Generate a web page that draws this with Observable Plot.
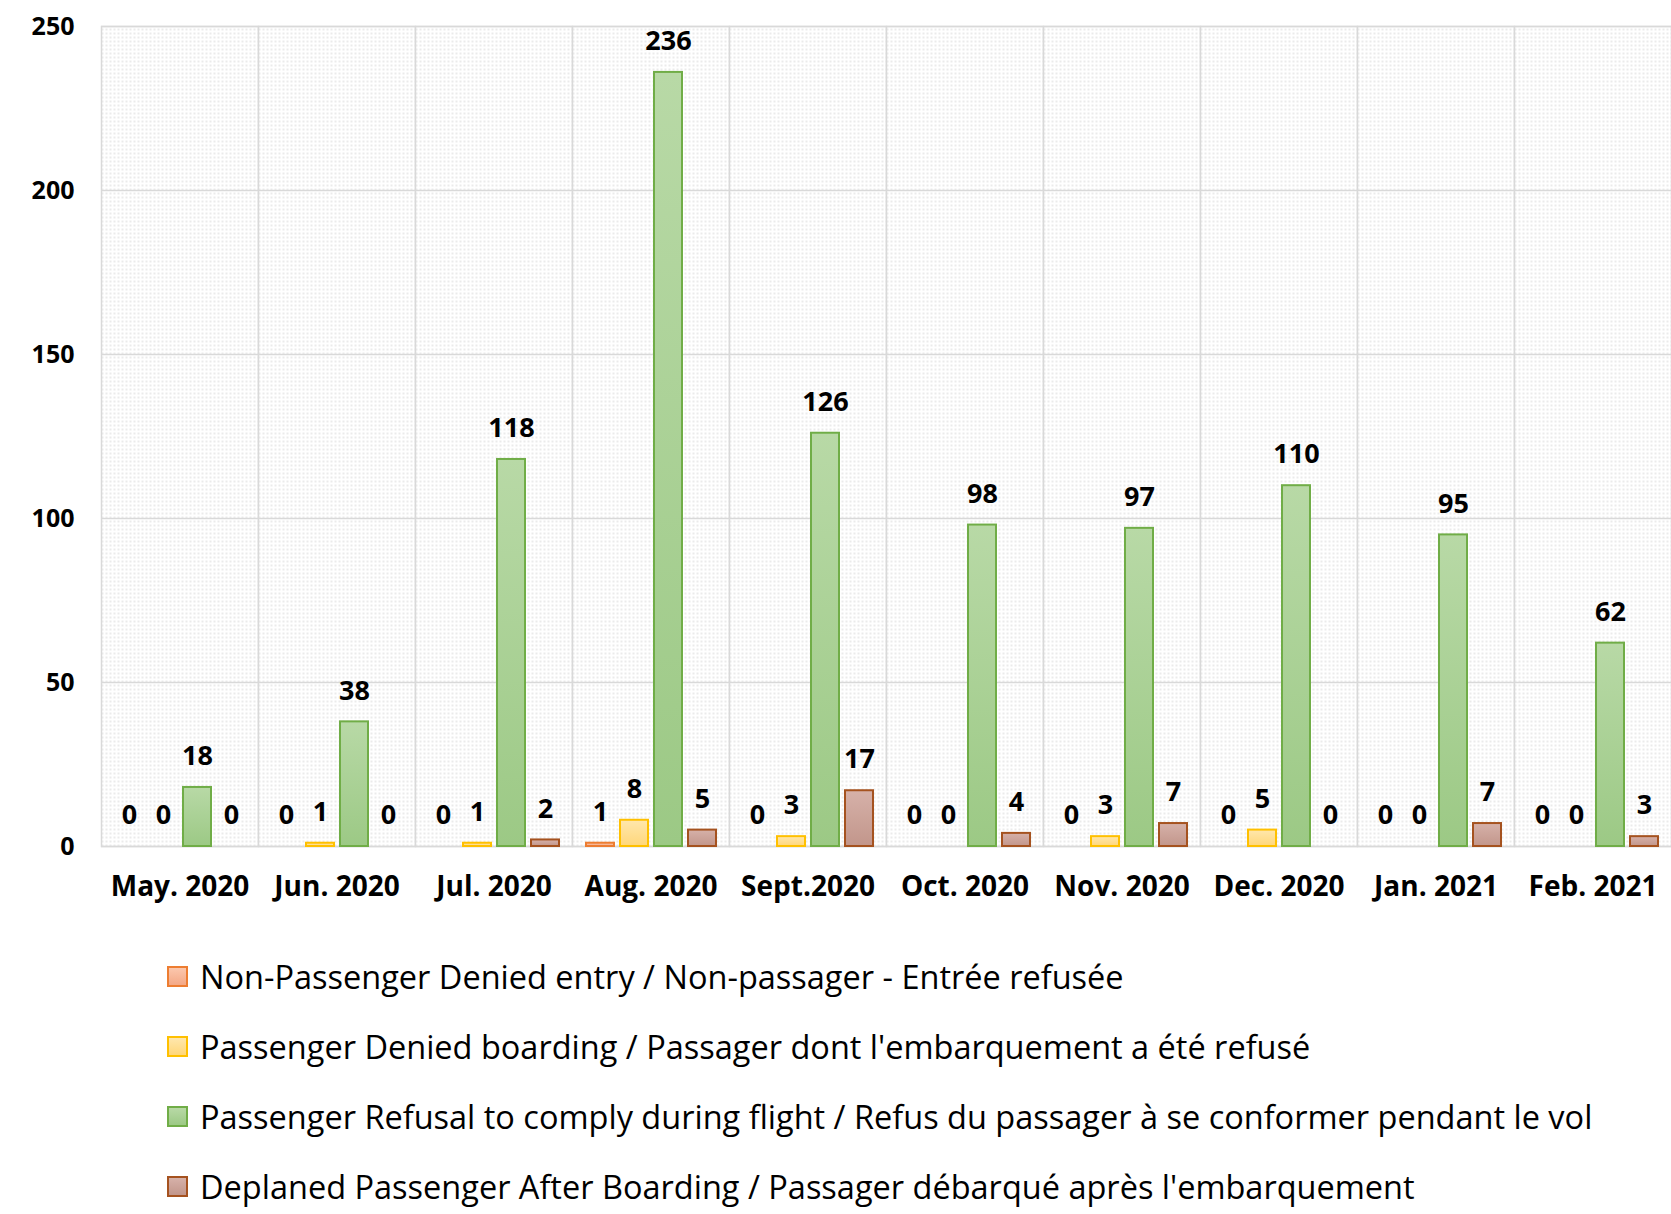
<!DOCTYPE html>
<html>
<head>
<meta charset="utf-8">
<script src="https://cdn.jsdelivr.net/npm/d3@7"></script>
<script src="https://cdn.jsdelivr.net/npm/@observablehq/plot@0.6"></script>
<style>
  html, body { margin: 0; padding: 0; background: #fff; overflow: hidden; }
  #chart svg { display: block; }
  .legend { margin-top: 11px; font-family: "Open Sans", sans-serif; font-size: 32.5px; color: #000; }
  .legend .row { height: 70px; display: flex; align-items: center; padding-left: 167px; }
  .legend .sw { width: 17px; height: 17px; border-width: 2px; border-style: solid; margin-right: 12px; flex: none; }
</style>
</head>
<body>
<div id="chart"></div>
<div class="legend" id="legend"></div>
<script>
const months = ["May. 2020", "Jun. 2020", "Jul. 2020", "Aug. 2020", "Sept.2020", "Oct. 2020", "Nov. 2020", "Dec. 2020", "Jan. 2021", "Feb. 2021"];
const series = [
  "Non-Passenger Denied entry / Non-passager - Entrée refusée",
  "Passenger Denied boarding / Passager dont l'embarquement a été refusé",
  "Passenger Refusal to comply during flight / Refus du passager à se conformer pendant le vol",
  "Deplaned Passenger After Boarding / Passager débarqué après l'embarquement"
];
const nonPassengerDenied = [0, 0, 0, 1, 0, 0, 0, 0, 0, 0];
const deniedBoarding     = [0, 1, 1, 8, 3, 0, 3, 5, 0, 0];
const refusalToComply    = [18, 38, 118, 236, 126, 98, 97, 110, 95, 62];
const deplaned           = [0, 0, 2, 5, 17, 4, 7, 0, 7, 3];
const yTicks = [0, 50, 100, 150, 200, 250];

const strokes = ["#ed7d31", "#ffc000", "#70ad47", "#a5521f"];
const gradTop = ["#fbc7ad", "#ffe7ad", "#b8d9a6", "#d6b1a9"];
const gradBot = ["#f4a886", "#ffd77a", "#9cc985", "#c2968b"];

const seriesValues = [nonPassengerDenied, deniedBoarding, refusalToComply, deplaned];
const data = [];
months.forEach((m, i) => series.forEach((s, j) => data.push({month: m, series: s, value: seriesValues[j][i]})));

const font = "'Open Sans', sans-serif";

const svg = Plot.plot({
  width: 1671,
  height: 930,
  marginLeft: 100,
  marginRight: 0,
  marginTop: 26,
  marginBottom: 84,
  style: {fontFamily: font, background: "#fff"},
  fx: {domain: months, paddingInner: 0, paddingOuter: 0, label: null, axis: null},
  x: {domain: series, paddingInner: 0.19, paddingOuter: 0.37, axis: null},
  y: {domain: [0, 250], axis: null},
  marks: [
    Plot.frame({fill: "url(#dots)", stroke: "#d9d9d9", strokeWidth: 1.5}),
    Plot.gridY(yTicks, {stroke: "#d9d9d9", strokeOpacity: 1, strokeWidth: 1.5}),
    ...series.map((s, j) => Plot.barY(data.filter(d => d.series === s && d.value > 0), {
      fx: "month", x: "series", y: "value",
      fill: `url(#grad${j})`, stroke: strokes[j], strokeWidth: 2
    })),
    Plot.text(data, {fx: "month", x: "series", y: "value", text: d => String(d.value),
      dy: -31, fontSize: 27, fontWeight: "bold", fill: "#000"}),
    Plot.axisY({ticks: yTicks, tickSize: 0, tickPadding: 27, fontSize: 25, fontWeight: "bold", label: null, color: "#000"}),
    Plot.axisFx({anchor: "bottom", tickSize: 0, tickPadding: 30, fontSize: 28, fontWeight: "bold", label: null, color: "#000"})
  ]
});

const defs = d3.select(svg).insert("defs", ":first-child");
const pat = defs.append("pattern").attr("id", "dots").attr("width", 4).attr("height", 4).attr("patternUnits", "userSpaceOnUse");
pat.append("rect").attr("width", 4).attr("height", 4).attr("fill", "#fff");
pat.append("rect").attr("width", 2).attr("height", 2).attr("fill", "#ebebeb");
gradTop.forEach((c, j) => {
  const g = defs.append("linearGradient").attr("id", `grad${j}`).attr("x1", 0).attr("y1", 0).attr("x2", 0).attr("y2", 1);
  g.append("stop").attr("offset", "0%").attr("stop-color", c);
  g.append("stop").attr("offset", "100%").attr("stop-color", gradBot[j]);
});

document.getElementById("chart").appendChild(svg);

const legend = d3.select("#legend");
series.forEach((s, j) => {
  const row = legend.append("div").attr("class", "row");
  row.append("span").attr("class", "sw")
    .style("background", `linear-gradient(${gradTop[j]}, ${gradBot[j]})`)
    .style("border-color", strokes[j]);
  row.append("span").text(s);
});
</script>
</body>
</html>
